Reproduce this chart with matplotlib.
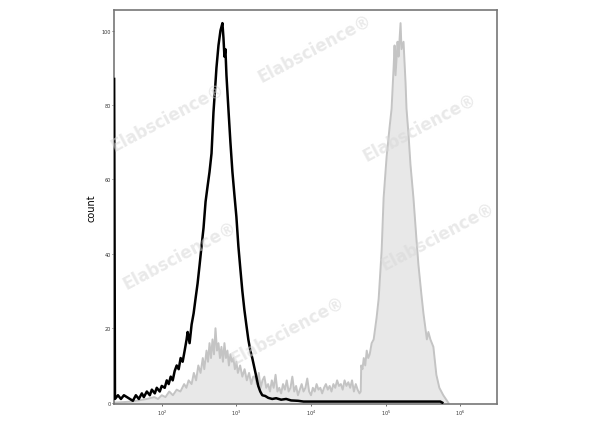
import numpy as np
import matplotlib
matplotlib.use("Agg")
import matplotlib.pyplot as plt

# histogram traces: position in log10 units, count
black_x = [1.362, 1.373, 1.413, 1.453, 1.493, 1.533, 1.573, 1.613, 1.653, 1.693,
           1.733, 1.760, 1.800, 1.840, 1.867, 1.907, 1.933, 1.973, 2.000, 2.040,
           2.067, 2.093, 2.120, 2.147, 2.173, 2.200, 2.227, 2.253, 2.280, 2.307,
           2.333, 2.347, 2.373, 2.400, 2.427, 2.453, 2.480, 2.507, 2.533, 2.560,
           2.587, 2.613, 2.640, 2.667, 2.693, 2.720, 2.733, 2.760, 2.787, 2.813,
           2.827, 2.840, 2.853, 2.867, 2.893, 2.920, 2.947, 2.973, 3.000, 3.027,
           3.053, 3.080, 3.107, 3.133, 3.160, 3.187, 3.213, 3.240, 3.267, 3.293,
           3.320, 3.347, 3.387, 3.427, 3.480, 3.533, 3.600, 3.667, 3.733, 3.827,
           3.900, 4.133, 4.533, 5.067, 5.467, 5.733, 5.760]
black_y = [87, 1, 2, 1, 2, 1.5, 1, 0.5, 2, 1,
           2.5, 1.5, 3, 2, 3.5, 2.5, 4, 3, 4.5, 4,
           6, 5, 7, 6, 8.5, 10, 9, 12, 11, 14,
           17, 19, 16, 21, 24, 28, 32, 37, 42, 47,
           54, 58, 62, 67, 78, 86, 90, 96, 100, 102,
           98, 93, 95, 88, 79, 70, 62, 56, 50, 42,
           36, 30, 25, 21, 17, 14, 12, 9.5, 7, 4.5,
           3, 2, 1.8, 1.3, 1, 1.2, 0.8, 1, 0.6, 0.5,
           0.3, 0.3, 0.3, 0.3, 0.3, 0.3, 0]

gray_x = [1.360, 1.600, 1.800, 1.900, 1.950, 2.000, 2.050, 2.100, 2.150, 2.200,
          2.250, 2.300, 2.330, 2.360, 2.400, 2.430, 2.460, 2.490, 2.520, 2.550,
          2.570, 2.600, 2.620, 2.640, 2.660, 2.680, 2.700, 2.720, 2.740, 2.760,
          2.780, 2.800, 2.820, 2.840, 2.860, 2.880, 2.900, 2.920, 2.940, 2.960,
          2.980, 3.000, 3.020, 3.050, 3.080, 3.110, 3.140, 3.170, 3.200, 3.225,
          3.250, 3.275, 3.300, 3.325, 3.350, 3.375, 3.400, 3.425, 3.450, 3.475,
          3.500, 3.525, 3.550, 3.575, 3.600, 3.625, 3.650, 3.675, 3.700, 3.725,
          3.750, 3.775, 3.800, 3.825, 3.850, 3.875, 3.900, 3.925, 3.950, 3.975,
          4.000, 4.025, 4.050, 4.075, 4.100, 4.125, 4.150, 4.175, 4.200, 4.225,
          4.250, 4.275, 4.300, 4.325, 4.350, 4.375, 4.400, 4.425, 4.450, 4.475,
          4.500, 4.525, 4.550, 4.575, 4.600, 4.625, 4.650, 4.667, 4.673, 4.690,
          4.707, 4.727, 4.747, 4.767, 4.787, 4.813, 4.840, 4.880, 4.907, 4.947,
          4.973, 5.013, 5.053, 5.080, 5.107, 5.120, 5.133, 5.160, 5.173, 5.200,
          5.213, 5.240, 5.267, 5.280, 5.307, 5.333, 5.373, 5.413, 5.440, 5.480,
          5.507, 5.533, 5.553, 5.573, 5.600, 5.620, 5.640, 5.680, 5.720, 5.773,
          5.840]
gray_y = [0, 0.3, 1, 1.5, 1, 2, 1.5, 3, 2, 3.5,
          3, 5, 4, 6, 5, 8, 6, 10, 8, 12,
          9, 14, 11, 16, 12, 17, 13, 20, 14, 16,
          12, 15, 11, 16, 12, 14, 10, 13, 11, 12,
          9, 11, 8, 10, 7, 9, 6, 8, 5, 7,
          7, 5, 8, 4, 6, 7, 4, 5, 3, 6,
          4, 7.5, 3, 4, 2.5, 5, 3.5, 6, 3, 4,
          7, 3, 4.5, 2, 3.5, 5, 3, 4, 6.5, 3,
          2, 4, 3, 5, 3.5, 4, 2.5, 4, 5, 3.5,
          4.5, 3, 5, 4, 6, 4.5, 5, 3.5, 6, 4.5,
          5.5, 4, 6, 3, 5, 3.5, 2.5, 3, 10, 9,
          12, 10, 14, 12, 13, 16, 17, 23, 28, 41,
          55, 66, 74, 79, 90, 96, 88, 97, 93, 102,
          95, 97, 86, 79, 72, 64, 55, 44, 37, 29,
          24, 20, 17, 19, 17, 16, 15, 7.5, 4, 2,
          0]

watermarks = [(0.525, 0.885), (0.28, 0.725), (0.70, 0.70), (0.73, 0.445),
              (0.30, 0.40), (0.48, 0.225)]

gx = 10 ** np.array(gray_x)
gy = np.array(gray_y)
bx = 10 ** np.array(black_x)
by = np.array(black_y)

fig = plt.figure(figsize=(6, 4.27), dpi=100)
ax = fig.add_axes([0.19, 0.052, 0.638, 0.922])

ax.fill_between(gx, 0, gy, color="#e8e8e8", lw=0, zorder=1)
ax.plot(gx, gy, color="#c4c4c4", lw=1.4, zorder=2)
ax.plot(bx, by, color="black", lw=1.8, zorder=3)

ax.set_xscale("log")
ax.set_xlim(10 ** 1.36, 10 ** 6.49)
ax.set_ylim(-0.3, 105.5)
ax.set_xticks([1e2, 1e3, 1e4, 1e5, 1e6])
ax.xaxis.set_minor_locator(matplotlib.ticker.NullLocator())
ax.set_yticks([0, 20, 40, 60, 80, 100])
ax.tick_params(labelsize=3.5, length=1.5, width=0.5, colors="#333333", pad=1)
ax.set_ylabel("count", fontsize=7, labelpad=3)

for s in ax.spines.values():
    s.set_color("#777777")
    s.set_linewidth(1.2)

for (x, y) in watermarks:
    fig.text(x, y, "Elabscience\u00ae", fontsize=12, fontweight="bold",
             color="#d8d8d8", alpha=0.55, rotation=28,
             ha="center", va="center", zorder=10)

fig.savefig("out.png", dpi=100, facecolor="white")
